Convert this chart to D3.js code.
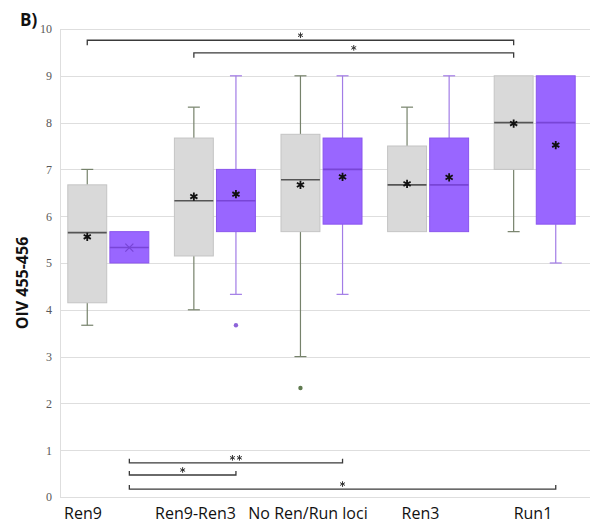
<!DOCTYPE html>
<html lang="en">
<head>
    <meta charset="utf-8" />
    <title>OIV 455-456 box plot</title>
    <script src="https://d3js.org/d3.v7.min.js"></script>
    <style>
        body { margin: 0; background: #fff; }
    </style>
</head>
<body>
<script>
    var w = 592;
    var h = 526;

    // categories on the x axis and the two series drawn in each
    var categories = ["Ren9", "Ren9-Ren3", "No Ren/Run loci", "Ren3", "Run1"];
    var series = ["grey", "purple"];

    // [min, q1, median, q3, max, mean]
    var greyStats = [
        [3.67, 4.15, 5.65, 6.67, 7.00, 5.56],
        [4.00, 5.15, 6.33, 7.67, 8.33, 6.42],
        [3.00, 5.67, 6.78, 7.75, 9.00, 6.67],
        [5.67, 5.67, 6.67, 7.50, 8.33, 6.69],
        [5.67, 7.00, 8.00, 9.00, 9.00, 7.98]
    ];
    var purpleStats = [
        [5.00, 5.00, 5.33, 5.67, 5.67, 5.33],
        [4.33, 5.67, 6.33, 7.00, 9.00, 6.47],
        [4.33, 5.83, 7.00, 7.67, 9.00, 6.84],
        [5.67, 5.67, 6.67, 7.67, 9.00, 6.83],
        [5.00, 5.83, 8.00, 9.00, 9.00, 7.52]
    ];
    var greyOutliers = [[], [], [2.33], [], []];
    var purpleOutliers = [[], [3.67], [], [], []];
    // mean marker kind per box
    var greyMeanMarks = ["*", "*", "*", "*", "*"];
    var purpleMeanMarks = ["x", "*", "*", "*", "*"];

    var yTicks = [0, 1, 2, 3, 4, 5, 6, 7, 8, 9, 10];

    // significance brackets: [from category, from series, to category, to series, y level, label]
    var comparisons = [
        ["Ren9", "grey", "Run1", "grey", 9.76, "*"],
        ["Ren9-Ren3", "grey", "Run1", "grey", 9.49, "*"],
        ["Ren9", "purple", "No Ren/Run loci", "purple", 0.73, "**"],
        ["Ren9", "purple", "Ren9-Ren3", "purple", 0.47, "*"],
        ["Ren9", "purple", "Run1", "purple", 0.17, "*"]
    ];

    var styles = {
        grey: { fill: "#d9d9d9", stroke: "#c4c4c4", whisker: "#76826b", median: "#555555", dot: "#5f7a4f" },
        purple: { fill: "#9966ff", stroke: "#8a55ee", whisker: "#a27ce6", median: "#7845d6", dot: "#8d63d9" }
    };

    var dataBySeries = {
        grey: { stats: greyStats, outliers: greyOutliers, marks: greyMeanMarks },
        purple: { stats: purpleStats, outliers: purpleOutliers, marks: purpleMeanMarks }
    };

    var plotLeft = 60, plotRight = 590, plotTop = 29, plotBottom = 497;

    var yScale = d3.scaleLinear()
        .domain([0, 10])
        .range([plotBottom, plotTop]);

    var xScale = d3.scaleBand()
        .domain(categories)
        .range([55, 588])
        .paddingInner(0.24)
        .paddingOuter(0.12);

    var subScale = d3.scaleBand()
        .domain(series)
        .range([0, xScale.bandwidth()])
        .paddingInner(0.075);

    function boxCenter(cat, s) {
        return xScale(cat) + subScale(s) + subScale.bandwidth() / 2;
    }

    var svg = d3.select("body")
        .append("svg")
        .attr("width", w)
        .attr("height", h);

    // gridlines
    svg.append("g")
        .selectAll("line")
        .data(yTicks)
        .enter()
        .append("line")
        .attr("x1", plotLeft)
        .attr("x2", plotRight)
        .attr("y1", function(d) { return Math.round(yScale(d)) + 0.5; })
        .attr("y2", function(d) { return Math.round(yScale(d)) + 0.5; })
        .attr("stroke", "#dedede")
        .attr("stroke-width", 1);

    svg.append("line")
        .attr("x1", plotLeft + 0.5)
        .attr("x2", plotLeft + 0.5)
        .attr("y1", plotTop)
        .attr("y2", plotBottom)
        .attr("stroke", "#dedede");

    // y axis labels
    var yAxis = d3.axisLeft(yScale)
        .tickValues(yTicks)
        .tickSize(0)
        .tickPadding(8)
        .tickFormat(d3.format("d"));

    var yG = svg.append("g")
        .attr("transform", "translate(" + plotLeft + ",0)")
        .call(yAxis);
    yG.select(".domain").remove();
    yG.selectAll("text")
        .attr("font-family", "Liberation Serif, serif")
        .attr("font-size", "12px")
        .attr("fill", "#595959");

    // boxes
    series.forEach(function(s) {
        var st = styles[s];
        var d = dataBySeries[s];
        var g = svg.append("g");
        var bw = subScale.bandwidth();

        categories.forEach(function(cat, i) {
            var v = d.stats[i];
            var cx = boxCenter(cat, s);
            var x0 = xScale(cat) + subScale(s);

            // whiskers
            if (v[4] > v[3]) {
                g.append("line").attr("x1", cx).attr("x2", cx)
                    .attr("y1", yScale(v[4])).attr("y2", yScale(v[3]))
                    .attr("stroke", st.whisker).attr("stroke-width", 1.2);
                g.append("line").attr("x1", cx - 6).attr("x2", cx + 6)
                    .attr("y1", yScale(v[4])).attr("y2", yScale(v[4]))
                    .attr("stroke", st.whisker).attr("stroke-width", 1.2);
            }
            if (v[0] < v[1]) {
                g.append("line").attr("x1", cx).attr("x2", cx)
                    .attr("y1", yScale(v[1])).attr("y2", yScale(v[0]))
                    .attr("stroke", st.whisker).attr("stroke-width", 1.2);
                g.append("line").attr("x1", cx - 6).attr("x2", cx + 6)
                    .attr("y1", yScale(v[0])).attr("y2", yScale(v[0]))
                    .attr("stroke", st.whisker).attr("stroke-width", 1.2);
            }

            // box
            g.append("rect")
                .attr("x", x0)
                .attr("y", yScale(v[3]))
                .attr("width", bw)
                .attr("height", yScale(v[1]) - yScale(v[3]))
                .attr("fill", st.fill)
                .attr("stroke", st.stroke)
                .attr("stroke-width", 1);

            // median
            g.append("line")
                .attr("x1", x0).attr("x2", x0 + bw)
                .attr("y1", yScale(v[2])).attr("y2", yScale(v[2]))
                .attr("stroke", st.median)
                .attr("stroke-width", 1.6);

            // mean marker
            if (d.marks[i] === "x") {
                g.append("path")
                    .attr("transform", "translate(" + cx + "," + yScale(v[5]) + ")")
                    .attr("d", "M-4,-4L4,4M-4,4L4,-4")
                    .attr("stroke", st.median)
                    .attr("stroke-width", 1.2);
            } else {
                g.append("path")
                    .attr("transform", "translate(" + cx + "," + yScale(v[5]) + ")")
                    .attr("d", d3.symbol(d3.symbolAsterisk, 48)())
                    .attr("fill", "none")
                    .attr("stroke", "#111")
                    .attr("stroke-width", 1.8);
            }

            // outliers
            d.outliers[i].forEach(function(o) {
                g.append("circle")
                    .attr("cx", cx)
                    .attr("cy", yScale(o))
                    .attr("r", 2.2)
                    .attr("fill", st.dot);
            });
        });
    });

    // significance brackets
    var bg = svg.append("g");
    comparisons.forEach(function(c) {
        var xa = boxCenter(c[0], c[1]);
        var xb = boxCenter(c[2], c[3]);
        var yl = yScale(c[4]);
        var tick = c[4] > 5 ? 5 : -4; // ticks point toward the boxes
        bg.append("path")
            .attr("d", "M" + xa + "," + (yl + tick) + "V" + yl + "H" + xb + "V" + (yl + tick))
            .attr("fill", "none")
            .attr("stroke", "#3a3a3a")
            .attr("stroke-width", 1.3);
        var n = c[5].length;
        for (var k = 0; k < n; k++) {
            var sx = (xa + xb) / 2 + (k - (n - 1) / 2) * 7;
            bg.append("path")
                .attr("transform", "translate(" + sx + "," + (yl - 5) + ")")
                .attr("d", d3.symbol(d3.symbolAsterisk, 22)())
                .attr("fill", "none")
                .attr("stroke", "#333")
                .attr("stroke-width", 1);
        }
    });

    // x labels, spread so they don't overlap
    var labelScale = d3.scalePoint()
        .domain(categories)
        .range([83, 533]);

    var labels = svg.append("g")
        .selectAll("text")
        .data(categories)
        .enter()
        .append("text")
        .text(function(d) { return d; })
        .attr("x", function(d) { return labelScale(d); })
        .attr("y", 519)
        .attr("text-anchor", "middle")
        .attr("font-family", "Open Sans, sans-serif")
        .attr("font-size", "16px")
        .attr("fill", "#111");

    var lastRight = -Infinity;
    labels.each(function() {
        var t = d3.select(this);
        var wd = this.getComputedTextLength();
        var cx = +t.attr("x");
        if (cx - wd / 2 < lastRight + 12) {
            cx = lastRight + 12 + wd / 2;
            t.attr("x", cx);
        }
        lastRight = cx + wd / 2;
    });

    // axis title and panel letter
    svg.append("text")
        .text("OIV 455-456")
        .attr("transform", "translate(28,283) rotate(-90)")
        .attr("text-anchor", "middle")
        .attr("font-family", "Open Sans, sans-serif")
        .attr("font-weight", "bold")
        .attr("font-size", "16px")
        .attr("fill", "#111");

    svg.append("text")
        .text("B)")
        .attr("x", 20)
        .attr("y", 26)
        .attr("font-family", "Open Sans, sans-serif")
        .attr("font-weight", "bold")
        .attr("font-size", "17px")
        .attr("fill", "#111");
</script>
</body>
</html>
